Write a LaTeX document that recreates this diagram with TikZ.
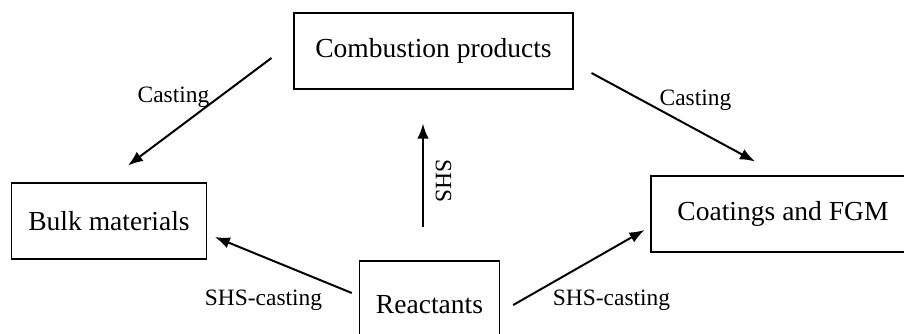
\documentclass[tikz,border=0pt]{standalone}
\usepackage{fontspec}
\setmainfont{Liberation Serif}
\usetikzlibrary{arrows.meta,calc}
\tikzset{
  box/.style={draw,line width=0.9pt,minimum height=2.28cm,inner xsep=0.5cm,
    font=\fontsize{23.5}{28}\selectfont},
  lbl/.style={font=\fontsize{20}{24}\selectfont,anchor=base,inner sep=0pt},
  arr/.style={line width=1.7pt,-{Latex[length=0.45cm,width=0.34cm]}}
}
\begin{document}
\begin{tikzpicture}[x=0.03cm,y=-0.03cm]
      \clip (0,0) rectangle (904,333);
      \draw
        (433.5,51) node[box,minimum width=8.37cm] (comb){Combustion products}
        (109,221) node[box] (bulk){Bulk materials}
        (783,214) node[box,minimum width=7.92cm] (coat){Coatings and FGM}
        (429.5,305) node[box,minimum width=4.17cm,minimum height=2.64cm] (react){Reactants};
      \draw
        (173.5,102) node[lbl] (lcast){Casting}
        (695.5,105) node[lbl] (rcast){Casting}
        (443.5,181) node[lbl,anchor=center,rotate=-90] (shs){SHS}
        (263.5,305) node[lbl] (lsc){SHS-casting}
        (611.5,305) node[lbl] (rsc){SHS-casting};
      \begin{scope}[arr]
        \draw ($(comb.west)+(-22,7)$) to ($(bulk.north)+(19,-17)$);
        \draw ($(comb.east)+(18,22)$) to ($(coat.north)+(-28,-14)$);
        \draw ($(react.north)+(-6.5,-33)$) to ($(comb.south)+(-10.5,34)$);
        \draw ($(react.west)+(-7,-12)$) to ($(bulk.east)+(8,16)$);
        \draw ($(react.east)+(13,0)$) to ($(coat.west)+(-6,16)$);
      \end{scope}
    \end{tikzpicture}
\end{document}
